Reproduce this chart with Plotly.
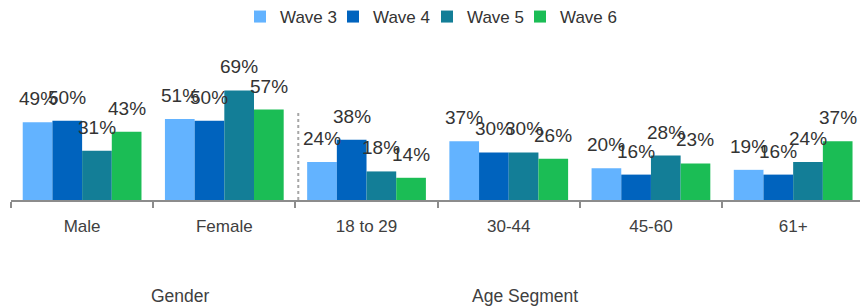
import plotly.graph_objects as go

categories = ["Male", "Female", "18 to 29", "30-44", "45-60", "61+"]
wave3 = [49, 51, 24, 37, 20, 19]
wave4 = [50, 50, 38, 30, 16, 16]
wave5 = [31, 69, 18, 30, 28, 24]
wave6 = [43, 57, 14, 26, 23, 37]
series_names = ["Wave 3", "Wave 4", "Wave 5", "Wave 6"]
series_values = [wave3, wave4, wave5, wave6]
colors = ["#63B3FF", "#0063BE", "#137E97", "#1BBD55"]
group_labels = ["Gender", "Age Segment"]

W, H = 860, 306
ml, mr, mt, mb = 11, 0, 73, 106
plot_w = W - ml - mr
plot_h = H - mt - mb
x_range = [-0.5, 5.47]
bargap = 0.165
cat_px = plot_w / (x_range[1] - x_range[0])
bar_px = cat_px * (1 - bargap) / len(series_names)

def py(pix):
    return (mt + plot_h - pix) / plot_h

def px(pix):
    return (pix - ml) / plot_w

font = "Liberation Sans, Arial, sans-serif"
legend_names = ["legend", "legend2", "legend3", "legend4"]
legend_left_px = [240, 333, 427, 520]

fig = go.Figure()
for name, vals, col, lg in zip(series_names, series_values, colors, legend_names):
    fig.add_trace(go.Bar(x=categories, y=vals, name=name, marker_color=col,
                         marker_line_width=0, legend=lg))

for i, vals in enumerate(series_values):
    for c, v in zip(categories, vals):
        fig.add_annotation(x=c, y=v, text=f"{v}%", showarrow=False,
                           xshift=(i - 1.5) * bar_px, yshift=11,
                           yanchor="bottom", xanchor="center",
                           font=dict(family=font, size=19, color="#333333"))

fig.add_shape(type="line", x0=1.52, x1=1.52, y0=0, y1=55, xref="x", yref="y",
              line=dict(color="#A6A6A6", width=2, dash="dot"))

fig.add_annotation(x=px(180), y=py(296), xref="paper", yref="paper",
                   xanchor="center", yanchor="middle",
                   text=group_labels[0], showarrow=False,
                   font=dict(family=font, size=17.5, color="#404040"))
fig.add_annotation(x=px(525), y=py(296), xref="paper", yref="paper",
                   xanchor="center", yanchor="middle",
                   text=group_labels[1], showarrow=False,
                   font=dict(family=font, size=17.5, color="#404040"))

legend_layouts = {}
for lg, lx in zip(legend_names, legend_left_px):
    legend_layouts[lg] = dict(orientation="h", x=px(lx), xanchor="left",
                              y=py(17), yanchor="middle",
                              font=dict(size=17, color="#333333"),
                              bgcolor="rgba(0,0,0,0)")

fig.update_layout(
    width=W, height=H, margin=dict(l=ml, r=mr, t=mt, b=mb, autoexpand=False),
    barmode="group", bargap=bargap, bargroupgap=0,
    plot_bgcolor="white", paper_bgcolor="white",
    font=dict(family=font, size=17, color="#333333"),
    xaxis=dict(range=x_range, showline=True, linecolor="#8C8C8C", linewidth=2,
               ticks="outside", tickson="boundaries", ticklen=6, tickcolor="#8C8C8C",
               tickwidth=2, tickfont=dict(size=17, color="#404040"),
               ticklabelstandoff=10, automargin=False,
               showgrid=False, fixedrange=True),
    yaxis=dict(range=[0, 80], visible=False, showgrid=False, fixedrange=True,
               automargin=False),
    showlegend=True,
    **legend_layouts,
)

fig.write_html("out.html", config={"displayModeBar": False},
               post_script="document.body.style.margin='0';document.body.style.overflow='hidden';")
